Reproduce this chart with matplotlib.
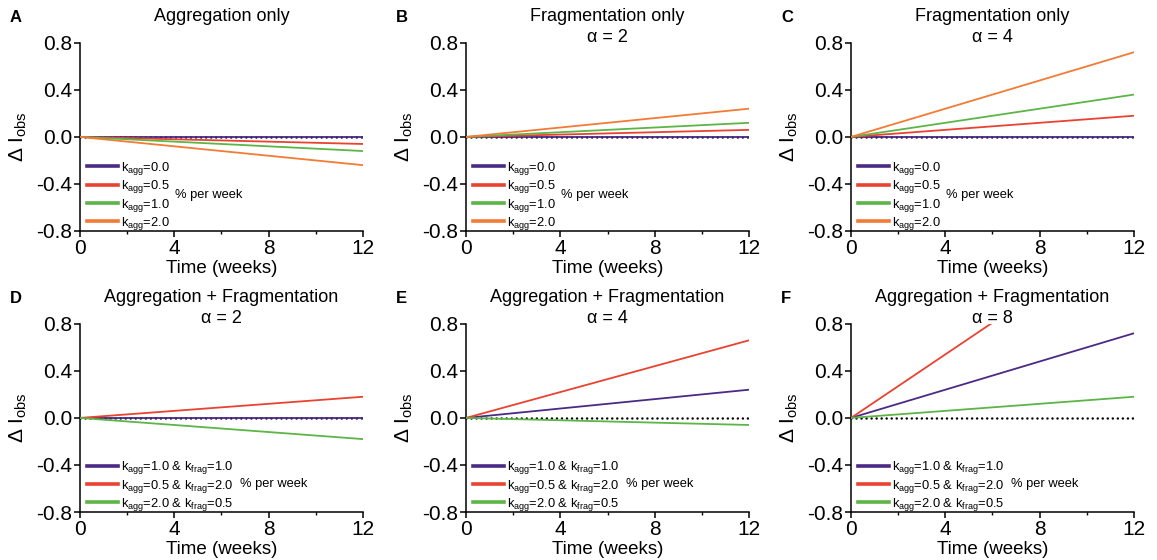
import matplotlib.pyplot as plt
from matplotlib.ticker import MultipleLocator

plt.rcParams["font.family"] = ["Liberation Sans", "DejaVu Sans"]
plt.rcParams["mathtext.fontset"] = "custom"
plt.rcParams["mathtext.rm"] = "Liberation Sans"
plt.rcParams["mathtext.it"] = "Liberation Sans"

# time points (weeks) - lines are straight, start and end
weeks = [0, 12]

# values at week 12 for each panel
a_vals = [0.0, -0.06, -0.12, -0.24]
b_vals = [0.0, 0.06, 0.12, 0.24]
c_vals = [0.0, 0.18, 0.36, 0.72]
d_vals = [0.0, 0.18, -0.18]
e_vals = [0.24, 0.66, -0.06]
f_vals = [0.72, 1.62, 0.18]

single_labels = [r"k$_{agg}$=0.0", r"k$_{agg}$=0.5", r"k$_{agg}$=1.0", r"k$_{agg}$=2.0"]
combo_labels = [r"k$_{agg}$=1.0 & k$_{frag}$=1.0",
                r"k$_{agg}$=0.5 & k$_{frag}$=2.0",
                r"k$_{agg}$=2.0 & k$_{frag}$=0.5"]

letters = ["A", "B", "C", "D", "E", "F"]
title_line1 = ["Aggregation only", "Fragmentation only", "Fragmentation only",
               "Aggregation + Fragmentation", "Aggregation + Fragmentation",
               "Aggregation + Fragmentation"]
title_line2 = ["", "α = 2", "α = 4", "α = 2", "α = 4", "α = 8"]

purple = "#4b2a85"
red = "#ea4230"
green = "#5cb546"
orange = "#f27b35"
single_colors = [purple, red, green, orange]
combo_colors = [purple, red, green]

fig = plt.figure(figsize=(11.57, 5.6), dpi=100)

lefts = [0.0691, 0.4028, 0.7355]
bottoms = [0.5875, 0.0857]
w, h = 0.2446, 0.336

panel_data = [a_vals, b_vals, c_vals, d_vals, e_vals, f_vals]

for i in range(6):
    row, col = divmod(i, 3)
    ax = fig.add_axes([lefts[col], bottoms[row], w, h])
    vals = panel_data[i]
    if i < 3:
        labels, colors = single_labels, single_colors
    else:
        labels, colors = combo_labels, combo_colors

    # zero reference, dotted
    ax.plot(weeks, [0, 0], color="black", lw=1.8, dashes=(0.01, 2.0),
            dash_capstyle="round", zorder=2)
    handles = []
    for v, lab, c in zip(vals, labels, colors):
        ln, = ax.plot(weeks, [0, v], color=c, lw=1.3, label=lab, zorder=3)
        handles.append(ln)

    ax.set_xlim(0, 12)
    ax.set_ylim(-0.8, 0.8)
    ax.xaxis.set_major_locator(MultipleLocator(4))
    ax.xaxis.set_minor_locator(MultipleLocator(2))
    ax.set_yticks([-0.8, -0.4, 0.0, 0.4, 0.8])
    ax.set_yticklabels(["-0.8", "-0.4", "0.0", "0.4", "0.8"])
    for s in ["top", "right"]:
        ax.spines[s].set_visible(False)
    for s in ["left", "bottom"]:
        ax.spines[s].set_linewidth(1.1)
    ax.tick_params(which="major", length=4, width=1.1, labelsize=15, pad=1.5)
    ax.tick_params(which="minor", length=2.5, width=1.0)
    ax.set_xlabel("Time (weeks)", fontsize=13.5, labelpad=1.5)
    ax.set_ylabel(r"$\Delta$ I$_{obs}$", fontsize=15, labelpad=5)

    ax.text(0.5, 1.138, title_line1[i], transform=ax.transAxes,
            fontsize=13, ha="center", va="center")
    if title_line2[i]:
        ax.text(0.5, 1.027, title_line2[i], transform=ax.transAxes,
                fontsize=13, ha="center", va="center")
    ax.text(-0.247, 1.135, letters[i], transform=ax.transAxes,
            fontsize=12, fontweight="bold", va="center", ha="left")

    leg = ax.legend(handles=handles, loc="lower left", frameon=False,
                    fontsize=9.3, handlelength=2.4, handletextpad=0.25,
                    labelspacing=0.1, borderaxespad=0, borderpad=0,
                    bbox_to_anchor=(0.025, -0.005))
    for lh in leg.get_lines():
        lh.set_linewidth(2.6)
    if i < 3:
        ax.text(0.336, 0.19, "% per week", transform=ax.transAxes,
                fontsize=9.3, va="center")
    else:
        ax.text(0.565, 0.149, "% per week", transform=ax.transAxes,
                fontsize=9.3, va="center")

fig.savefig("out.png", dpi=100)
